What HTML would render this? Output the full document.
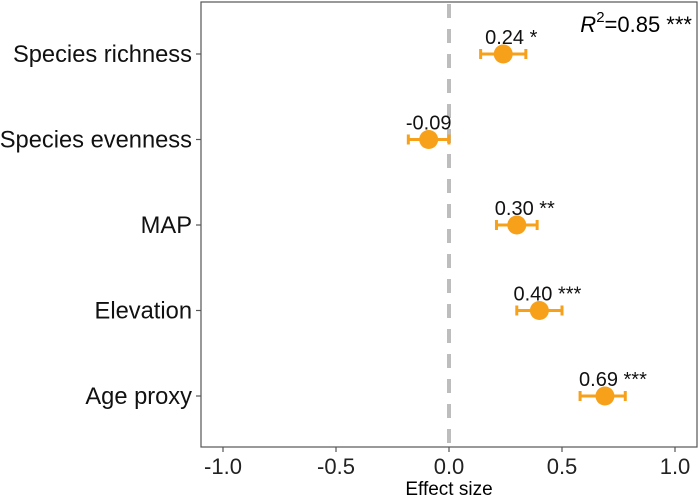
<!DOCTYPE html>
<html><head><meta charset="utf-8"><style>
body{margin:0;background:#fff;}
text{font-family:"Liberation Sans",Arial,sans-serif;}
</style></head><body>
<svg id="chart" width="700" height="499" xmlns="http://www.w3.org/2000/svg">
<rect x="201" y="2" width="496" height="445" fill="#fff" stroke="#555" stroke-width="1.2"/>
<line x1="449" y1="4" x2="449" y2="445" stroke="#bdbdbd" stroke-width="4" stroke-dasharray="14,11"/>
<g id="axes"></g><g id="marks"></g>
<text x="449" y="495" font-size="19" text-anchor="middle">Effect size</text>
<text x="692" y="32" font-size="22" text-anchor="end"><tspan font-style="italic">R</tspan><tspan font-size="15" dy="-10">2</tspan><tspan dy="10">=0.85 ***</tspan></text>
</svg>
<script>
const categories=["Species richness","Species evenness","MAP","Elevation","Age proxy"];
const estimates=[0.24,-0.09,0.30,0.40,0.69];
const lower=[0.14,-0.18,0.21,0.30,0.58];
const upper=[0.34,0.00,0.39,0.50,0.78];
const labels=["0.24 *","-0.09","0.30 **","0.40 ***","0.69 ***"];
const ticks=[-1.0,-0.5,0.0,0.5,1.0];
const tickLabels=["-1.0","-0.5","0.0","0.5","1.0"];
const NS="http://www.w3.org/2000/svg";
const xs=v=>449+v*226;
const ys=i=>54+i*85.5;
const ax=document.getElementById('axes'),mk=document.getElementById('marks');
function el(t,a,p){const e=document.createElementNS(NS,t);for(const k in a)e.setAttribute(k,a[k]);p.appendChild(e);return e;}
ticks.forEach((t,i)=>{
 const l=el('line',{x1:xs(t),x2:xs(t),y1:447,y2:452,stroke:'#555','stroke-width':1.2},ax);
 
 
 const tx=el('text',{x:xs(t),y:474,'font-size':22,'text-anchor':'middle',fill:'#222'},ax);
 tx.textContent=tickLabels[i];
 
 
});
const c='#f7a11a';
categories.forEach((cat,i)=>{
 const y=ys(i);
 const tk=el('line',{x1:196,x2:201,y1:y,y2:y,stroke:'#555','stroke-width':1.2},ax);
 
 
 const t=el('text',{x:192,y:y+8,'font-size':23.7,'text-anchor':'end',fill:'#111'},ax);
 t.textContent=cat;
 
 
 const g=el('g',{},mk);
 
 
 el('line',{x1:xs(lower[i]),x2:xs(upper[i]),y1:y,y2:y,stroke:c,'stroke-width':3},g);
 el('line',{x1:xs(lower[i]),x2:xs(lower[i]),y1:y-5,y2:y+5,stroke:c,'stroke-width':3},g);
 el('line',{x1:xs(upper[i]),x2:xs(upper[i]),y1:y-5,y2:y+5,stroke:c,'stroke-width':3},g);
 el('circle',{cx:xs(estimates[i]),cy:y,r:9.5,fill:c},g);
 const lt=el('text',{x:xs(estimates[i])+(labels[i].includes('*')?8:0),y:y-10,'font-size':20,'text-anchor':'middle',fill:'#111'},g);
 lt.textContent=labels[i];
 
 
});
</script>
</body></html>
